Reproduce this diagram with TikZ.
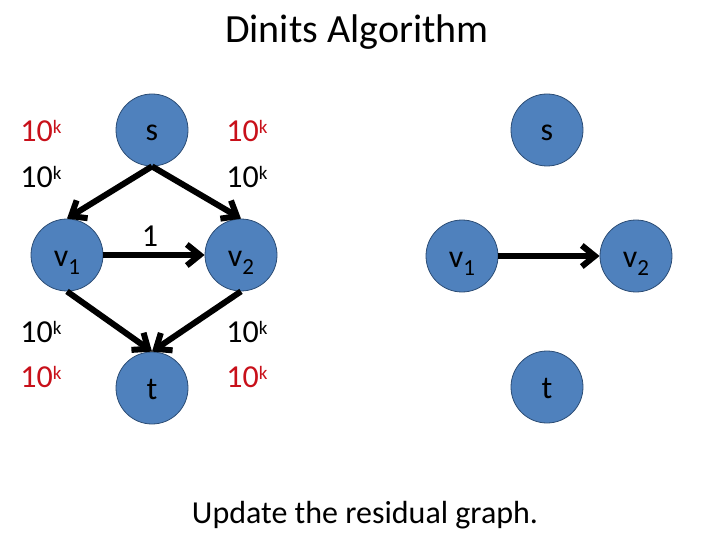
\documentclass[tikz,border=0pt]{standalone}
\usepackage{fontspec}
\setmainfont{Carlito}
\usetikzlibrary{arrows.meta}
\definecolor{nodeblue}{HTML}{4F81BD}
\definecolor{nodeline}{HTML}{2C4D75}
\definecolor{capred}{HTML}{C8101A}
\newcommand{\lowidx}[1]{\raisebox{-8pt}{\fontsize{23}{23}\selectfont #1}}
\newcommand{\tenk}{10\raisebox{8pt}{\fontsize{19}{19}\selectfont k}}
\begin{document}
\begin{tikzpicture}[x=1pt,y=-1pt,
    vertex/.style={circle,fill=nodeblue,draw=nodeline,line width=0.8pt,
      minimum size=72pt,inner sep=0pt,font=\fontsize{32}{32}\selectfont,
      text height=26pt,text depth=4pt},
    weight/.style={font=\fontsize{32}{32}\selectfont,anchor=base},
    flow/.style={weight,text=capred},
    edge/.style={line width=6pt,-{Straight Barb[length=13pt,width=21pt]}}]
  \useasboundingbox (0,0) rectangle (720,540);
  \node[anchor=base,font=\fontsize{40}{40}\selectfont] (title) at (357,43) {Dinits Algorithm};
  % left graph
  \draw
    (152,130) node[vertex] (s){s}
    (67,255) node[vertex] (v1){v\lowidx{1}}
    (241,255) node[vertex] (v2){v\lowidx{2}}
    (152,388) node[vertex] (t){t};
  \begin{scope}[edge]
    \draw (s.south) to (v1.north);
    \draw (s.south) to (v2.north);
    \draw (v1.east) to (v2.west);
    \draw (v1.south) to (t.north);
    \draw (v2.south) to (t.north);
  \end{scope}
  \node[flow] (fsv1) at (41,142) {\tenk};
  \node[weight] (csv1) at (41,188) {\tenk};
  \node[flow] (fsv2) at (247,142) {\tenk};
  \node[weight] (csv2) at (247,188) {\tenk};
  \node[weight] (cv1v2) at (150,247) {1};
  \node[weight] (cv1t) at (41,342) {\tenk};
  \node[flow] (fv1t) at (41,387) {\tenk};
  \node[weight] (cv2t) at (247,342) {\tenk};
  \node[flow] (fv2t) at (247,387) {\tenk};
  % residual graph
  \draw
    (547,130) node[vertex] (rs){s}
    (462,256) node[vertex] (rv1){v\lowidx{1}}
    (636,256) node[vertex] (rv2){v\lowidx{2}}
    (547,387) node[vertex] (rt){t};
  \begin{scope}[edge]
    \draw (rv1.east) to (rv2.west);
  \end{scope}
  \node[anchor=base,font=\fontsize{32}{32}\selectfont] (caption) at (365,523) {Update the residual graph.};
\end{tikzpicture}
\end{document}
